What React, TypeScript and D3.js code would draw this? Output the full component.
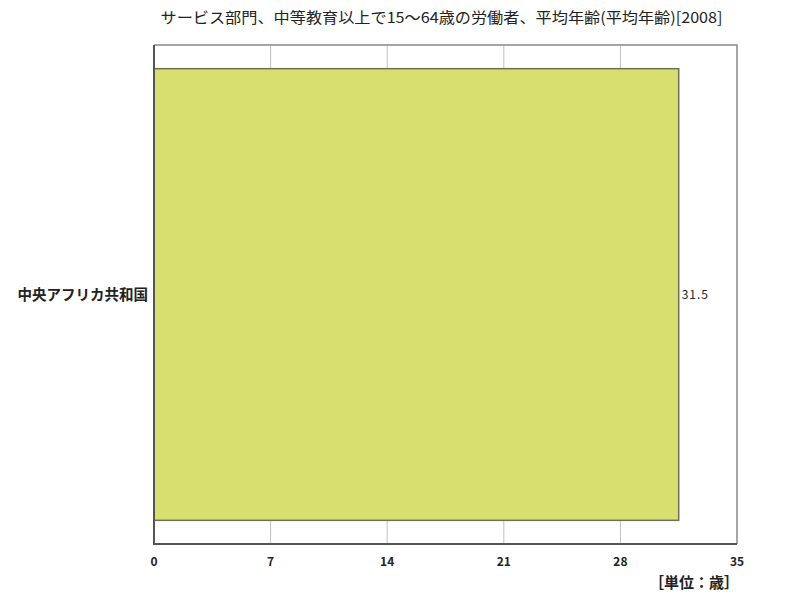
import * as d3 from "d3";
import React, { useEffect, useRef } from "react";

const categories = ["中央アフリカ共和国"];
const values = [31.5];
const xTicks = [0, 7, 14, 21, 28, 35];
const title = "サービス部門、中等教育以上で15～64歳の労働者、平均年齢(平均年齢)[2008]";
const unitLabel = "［単位：歳］";

export default function App() {
  const ref = useRef<SVGSVGElement | null>(null);

  useEffect(() => {
    const W = 800;
    const H = 600;
    const margin = { top: 45, left: 154, right: 63, bottom: 56 };
    const width = W - margin.left - margin.right;
    const height = H - margin.top - margin.bottom;
    const font = "'Noto Sans CJK JP', sans-serif";

    const svg = d3.select(ref.current);
    svg.selectAll("*").remove();
    svg.attr("width", W).attr("height", H).attr("viewBox", `0 0 ${W} ${H}`);

    svg
      .append("rect")
      .attr("width", W)
      .attr("height", H)
      .attr("fill", "#fff");

    const xScale = d3.scaleLinear().domain([0, 35]).range([0, width]);
    const yScale = d3
      .scaleBand()
      .domain(categories)
      .range([0, height])
      .paddingInner(0)
      .paddingOuter(0.05);

    const main = svg
      .append("g")
      .attr("transform", `translate(${margin.left},${margin.top})`);

    // grid
    main
      .selectAll("line.grid")
      .data(xTicks.filter((t) => t > 0 && t < 35))
      .enter()
      .append("line")
      .attr("class", "grid")
      .attr("x1", (d) => xScale(d))
      .attr("x2", (d) => xScale(d))
      .attr("y1", 0)
      .attr("y2", height)
      .attr("stroke", "#c0c0c0")
      .attr("stroke-width", 1);

    // bars
    main
      .selectAll("rect.bar")
      .data(values)
      .enter()
      .append("rect")
      .attr("class", "bar")
      .attr("x", xScale(0))
      .attr("y", (d, i) => (yScale(categories[i]) as number) + 1)
      .attr("width", (d) => xScale(d))
      .attr("height", yScale.bandwidth() - 2)
      .attr("fill", "#d9df6f")
      .attr("stroke", "#6e6e5a")
      .attr("stroke-width", 1.5);

    // value labels
    main
      .selectAll("text.val")
      .data(values)
      .enter()
      .append("text")
      .attr("class", "val")
      .attr("x", (d) => xScale(d) + 3)
      .attr("y", (d, i) => (yScale(categories[i]) as number) + yScale.bandwidth() / 2)
      .attr("dy", "0.35em")
      .attr("font-family", font)
      .attr("font-size", 12)
      .attr("letter-spacing", 1)
      .attr("fill", "#222")
      .text((d) => d.toFixed(1));

    // frame
    main
      .append("path")
      .attr("d", `M0,0H${width}V${height}`)
      .attr("fill", "none")
      .attr("stroke", "#888")
      .attr("stroke-width", 1.5);
    main
      .append("path")
      .attr("d", `M0,0V${height}H${width}`)
      .attr("fill", "none")
      .attr("stroke", "#555")
      .attr("stroke-width", 2);

    // x tick labels
    main
      .selectAll("text.xt")
      .data(xTicks)
      .enter()
      .append("text")
      .attr("class", "xt")
      .attr("x", (d) => xScale(d))
      .attr("y", height + 22)
      .attr("text-anchor", "middle")
      .attr("font-family", font)
      .attr("font-size", 12)
      .attr("font-weight", 700)
      .attr("fill", "#222")
      .text((d) => d);

    // category labels
    main
      .selectAll("text.cat")
      .data(categories)
      .enter()
      .append("text")
      .attr("class", "cat")
      .attr("x", -6)
      .attr("y", (d) => (yScale(d) as number) + yScale.bandwidth() / 2)
      .attr("dy", "0.35em")
      .attr("text-anchor", "end")
      .attr("font-family", font)
      .attr("font-size", 14.5)
      .attr("font-weight", 700)
      .attr("fill", "#222")
      .text((d) => d);

    svg
      .append("text")
      .attr("x", margin.left + width / 2 - 4)
      .attr("y", 23)
      .attr("text-anchor", "middle")
      .attr("font-family", font)
      .attr("font-size", 15)
      .attr("textLength", 562)
      .attr("lengthAdjust", "spacingAndGlyphs")
      .attr("fill", "#222")
      .text(title);

    svg
      .append("text")
      .attr("x", margin.left + width + 2)
      .attr("y", 588)
      .attr("text-anchor", "end")
      .attr("font-family", font)
      .attr("font-size", 15)
      .attr("font-weight", 700)
      .attr("fill", "#222")
      .text(unitLabel);
  }, []);

  return (
    <div style={{ position: "absolute", left: 0, top: 0 }}>
      <svg ref={ref} style={{ display: "block" }}></svg>
    </div>
  );
}
